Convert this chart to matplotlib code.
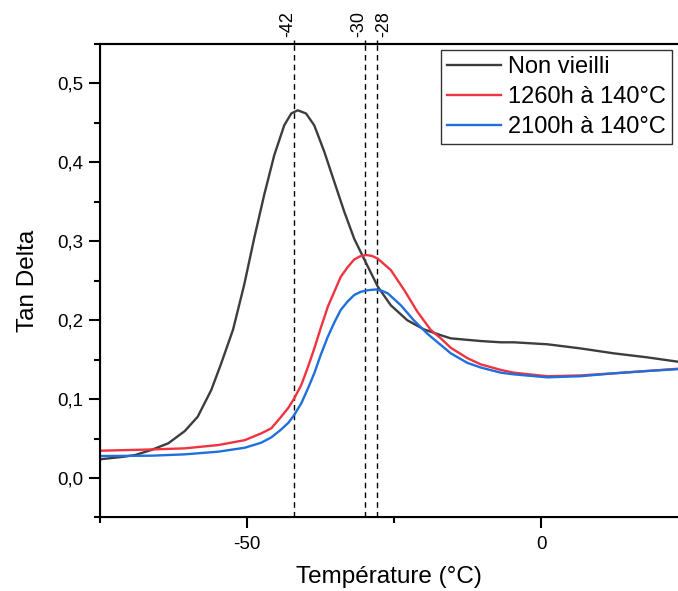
import matplotlib
matplotlib.use("Agg")
import matplotlib.pyplot as plt
import matplotlib.transforms as mtransforms
from matplotlib.ticker import MultipleLocator

plt.rcParams['font.family'] = ['Liberation Sans', 'DejaVu Sans']
plt.rcParams['axes.unicode_minus'] = False

x_gray = [-75, -71, -69.1, -66.3, -63.4, -60.6, -58.4, -56.1, -54.4, -52.4, -50.5, -48.8, -47.1,
          -45.4, -43.7, -42.5, -41.4, -40.0, -38.6, -36.9, -35.2, -33.5, -31.8, -29.5, -27.8,
          -25.6, -22.8, -20.0, -17.1, -15.4, -10.3, -6.9, -4.7, 1.0, 6.6, 12.3, 17.9, 23.2]
y_gray = [0.0237, 0.027, 0.029, 0.0355, 0.044, 0.0595, 0.0777, 0.1115, 0.1454, 0.188, 0.245, 0.304, 0.359,
          0.409, 0.447, 0.462, 0.466, 0.462, 0.447, 0.4136, 0.3755, 0.3375, 0.303, 0.268, 0.2425,
          0.219, 0.200, 0.1885, 0.181, 0.177, 0.1736, 0.172, 0.172, 0.1695, 0.1643, 0.158, 0.153, 0.1474]

x_red = [-75, -66.3, -60.6, -54.9, -50.4, -47.6, -45.9, -44.3, -43.0, -42.0, -40.8, -39.7, -38.6, -37.5,
         -36.3, -34.1, -32.9, -31.8, -30.8, -29.8, -28.8, -27.8, -25.6, -23.3, -21.1, -18.8, -17.1,
         -15.4, -12.6, -10.3, -6.9, -4.7, 1.0, 6.6, 12.3, 17.9, 23.2]
y_red = [0.0346, 0.0362, 0.0376, 0.0418, 0.048, 0.0566, 0.063, 0.077, 0.089, 0.101, 0.118, 0.140, 0.164, 0.19,
         0.217, 0.255, 0.2675, 0.277, 0.281, 0.2826, 0.2815, 0.278, 0.2636, 0.238, 0.211, 0.1876, 0.177,
         0.165, 0.152, 0.144, 0.137, 0.1335, 0.129, 0.130, 0.1327, 0.1356, 0.1385]

x_blue = [-75, -66.3, -60.6, -54.9, -50.4, -47.6, -45.9, -44.3, -43.0, -42.0, -40.8, -39.7, -38.6, -37.5,
          -36.3, -35.2, -34.1, -32.9, -31.8, -30.7, -29.5, -28.1, -27.0, -26.1, -23.9, -21.7, -19.4,
          -17.1, -15.4, -12.6, -10.3, -6.9, -4.7, 1.0, 6.6, 12.3, 17.9, 23.2]
y_blue = [0.0279, 0.0283, 0.030, 0.0334, 0.0384, 0.0448, 0.0515, 0.061, 0.070, 0.080, 0.0947, 0.113, 0.1327, 0.156,
          0.179, 0.197, 0.213, 0.224, 0.232, 0.236, 0.238, 0.239, 0.237, 0.234, 0.219, 0.200, 0.183,
          0.1686, 0.158, 0.146, 0.140, 0.1335, 0.1314, 0.1276, 0.129, 0.1327, 0.1356, 0.138]

labels = ["Non vieilli", "1260h à 140°C", "2100h à 140°C"]
colors = ["#3d3d3d", "#ef3340", "#1f6fdc"]
peak_temps = [-42, -30, -28]
peak_labels = ["-42", "-30", "-28"]

fig = plt.figure(figsize=(6.78, 5.91), dpi=100)
ax = fig.add_axes([0.1475, 0.1244, 0.8525, 0.8011])

for xs, ys, lab, c in zip([x_gray, x_red, x_blue], [y_gray, y_red, y_blue], labels, colors):
    ax.plot(xs, ys, color=c, lw=1.7, label=lab, solid_joinstyle='round')

for t in peak_temps:
    ax.axvline(t, color='black', lw=1.0, ls=(0, (4, 3)), zorder=0)

ax.set_xlim(-75, 23.2)
ax.set_ylim(-0.05, 0.55)
ax.xaxis.set_major_locator(MultipleLocator(50))
ax.xaxis.set_minor_locator(MultipleLocator(25))
ax.yaxis.set_major_locator(MultipleLocator(0.1))
ax.yaxis.set_minor_locator(MultipleLocator(0.05))
ax.yaxis.set_major_formatter(plt.FuncFormatter(lambda v, p: f"{v:.1f}".replace('.', ',').replace('-0,0', '0,0')))
ax.tick_params(axis='both', which='major', direction='out', length=8, width=1.5, labelsize=13.5)
ax.tick_params(axis='both', which='minor', direction='out', length=4, width=1.5)
ax.tick_params(axis='x', which='major', pad=5)
ax.tick_params(axis='y', which='major', pad=4)
for s in ['left', 'bottom', 'top']:
    ax.spines[s].set_linewidth(1.5)
ax.spines['right'].set_visible(False)

ax.set_xlabel("Température (°C)", fontsize=17.5, labelpad=10)
ax.set_ylabel("Tan Delta", fontsize=17.5, labelpad=13)

ax2 = ax.twiny()
ax2.set_xlim(ax.get_xlim())
ax2.set_xticks(peak_temps)
ax2.set_xticklabels(peak_labels, rotation=90, fontsize=13)
ax2.tick_params(axis='x', direction='out', length=3, width=1.0, pad=2)
ax2.spines['right'].set_visible(False)
ax2.spines['top'].set_linewidth(1.5)
for lbl, dx in zip(ax2.get_xticklabels(), [-6, -6, 7]):
    lbl.set_transform(lbl.get_transform() + mtransforms.ScaledTranslation(dx / 100, 0, fig.dpi_scale_trans))

leg = ax.legend(loc='upper right', fontsize=17, frameon=True, fancybox=False,
                edgecolor='black', handlelength=2.3, borderaxespad=0.25,
                labelspacing=0.35, handletextpad=0.3, borderpad=0.25)
leg.get_frame().set_linewidth(1.0)

fig.savefig("out.png", dpi=100)
